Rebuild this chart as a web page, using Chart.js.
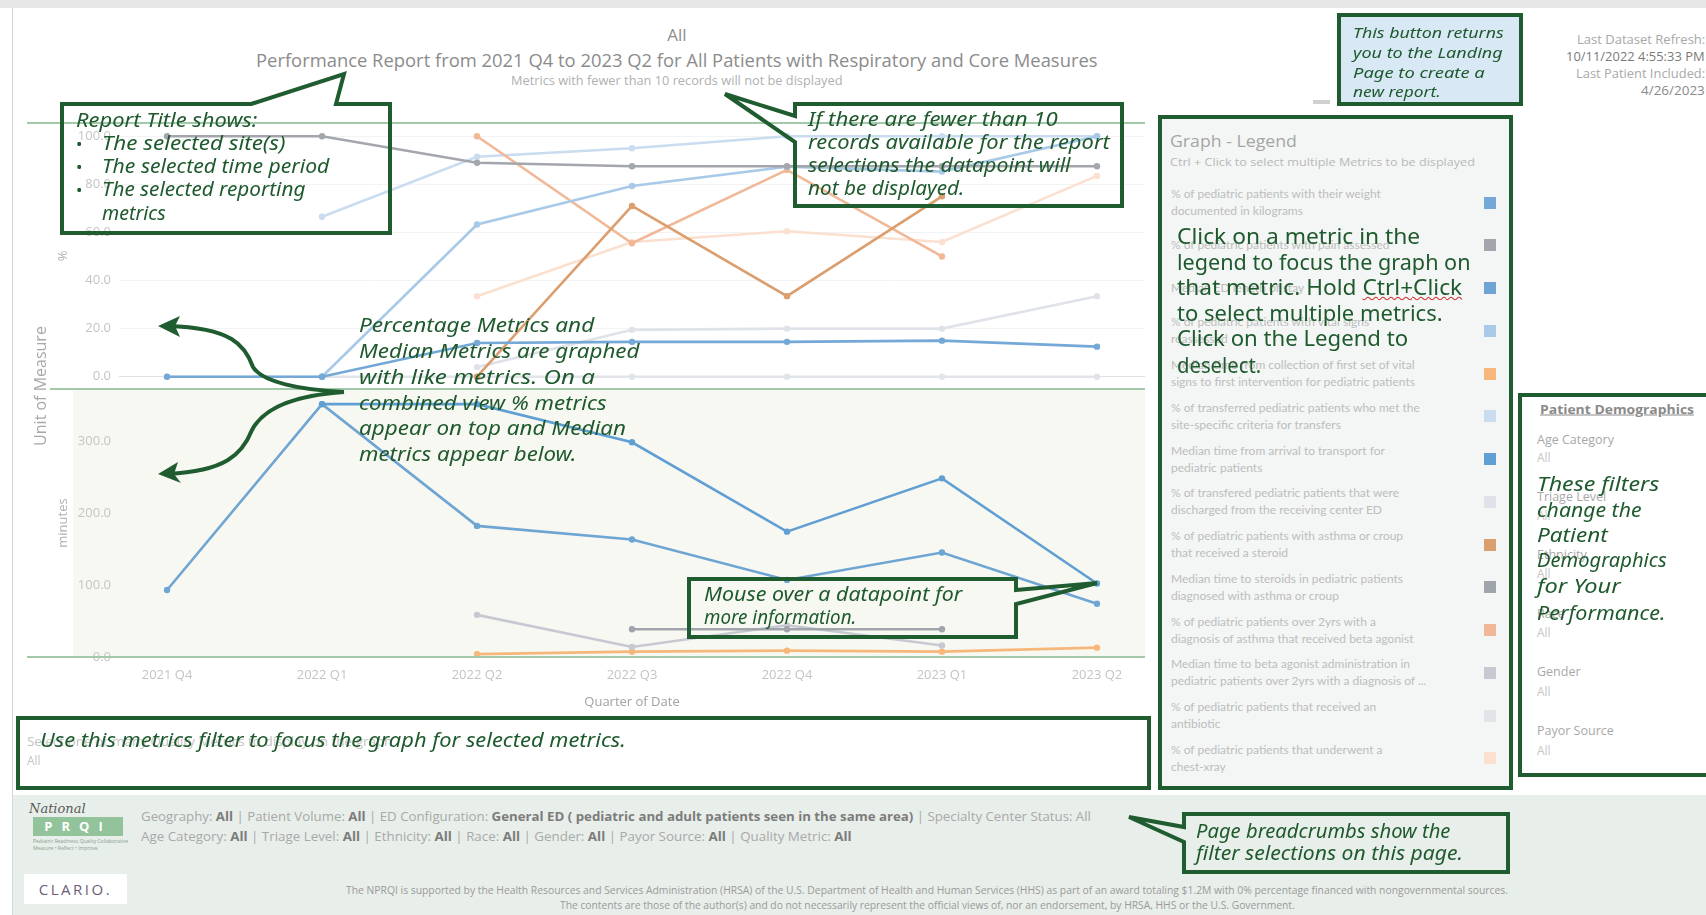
<!DOCTYPE html>
<html><head><meta charset="utf-8">
<script src="https://cdn.jsdelivr.net/npm/chart.js@4.4.1/dist/chart.umd.min.js"></script>
<style>
html,body{margin:0;padding:0;background:#fff;}
#root{position:relative;width:1706px;height:915px;overflow:hidden;font-family:'Open Sans',sans-serif;}
.abs{position:absolute;}
.t{position:absolute;white-space:nowrap;line-height:1;transform:translateY(-50%);transform-origin:left center;}
.h{font-family:'Noto Sans',sans-serif;font-style:italic;color:#1e5a2d;}
.hu{font-family:'Noto Sans',sans-serif;color:#1e5a2d;}
canvas{position:absolute;}
.g{color:#a9a9a9}.d{color:#7c7c7c;font-weight:bold}
</style></head><body><div id="root">

<!-- frame -->
<div class="abs" style="left:0;top:0;width:1706px;height:8px;background:#e6e6e6"></div>
<div class="abs" style="left:12px;top:8px;width:1px;height:907px;background:#d6d6d6"></div>
<div class="abs" style="left:13px;top:795px;width:1693px;height:120px;background:#e8eee9"></div>
<div class="abs" style="left:1162px;top:119px;width:347px;height:667px;background:#f3f6f4"></div>
<div class="abs" style="left:73px;top:389px;width:1072px;height:268px;background:#f8f8f2"></div>

<canvas id="topChart" width="1110" height="305" style="left:50px;top:100px"></canvas>
<canvas id="botChart" width="1110" height="347" style="left:50px;top:373px"></canvas>

<!-- green rules -->
<div class="abs" style="left:27px;top:122px;width:1118px;height:2px;background:#a2c9a9"></div>
<div class="abs" style="left:50px;top:388px;width:1095px;height:2px;background:#a2c9a9"></div>
<div class="abs" style="left:27px;top:656px;width:1118px;height:2px;background:#a2c9a9"></div>

<!-- header -->
<div class="t" style="left:0;width:1354px;text-align:center;top:34px;font-size:17px;color:#8e8e8e">All</div>
<div class="t" data-w="842" style="left:256px;top:60px;font-size:18px;color:#8c8c8c">Performance Report from 2021 Q4 to 2023 Q2 for All Patients with Respiratory and Core Measures</div>
<div class="t" data-w="331" style="left:511px;top:81px;font-size:12px;color:#b0b0b0">Metrics with fewer than 10 records will not be displayed</div>
<div class="t" style="left:40px;top:386px;font-size:16px;color:#a8a8a8;transform:translate(-50%,-50%) rotate(-90deg);transform-origin:center">Unit of Measure</div>

<!-- top right -->
<div class="abs" style="left:1339px;top:15px;width:182px;height:89px;background:#d8e8f4"></div>
<div class="abs" style="left:1313px;top:100px;width:17px;height:4px;background:#d0d0d0"></div>
<div class="t" data-w="128" style="right:1px;top:40px;font-size:12px;color:#a8a8a8;transform-origin:right center">Last Dataset Refresh:</div>
<div class="t" data-w="139" style="right:1px;top:57px;font-size:12px;color:#7a7a7a;transform-origin:right center">10/11/2022 4:55:33 PM</div>
<div class="t" data-w="129" style="right:1px;top:74px;font-size:12px;color:#a8a8a8;transform-origin:right center">Last Patient Included:</div>
<div class="t" data-w="64" style="right:1px;top:91px;font-size:12px;color:#8a8a8a;transform-origin:right center">4/26/2023</div>

<!-- metrics filter -->
<div class="t" data-w="365" style="left:27px;top:741px;font-size:13px;color:#c4c4c4">Select one or many Quality Metrics to display on the graph</div>
<div class="t" style="left:27px;top:761px;font-size:12px;color:#c4c4c4">All</div>

<!-- legend -->
<div class="t" data-w="127" style="left:1170px;top:140px;font-size:17px;color:#a5a5a5">Graph - Legend</div>
<div class="t" data-w="305" style="left:1170px;top:162px;font-size:11.5px;color:#b8b8b8">Ctrl + Click to select multiple Metrics to be displayed</div>
<div id="legendItems"></div>

<!-- demographics -->
<div class="t" data-w="154" style="left:1540px;top:409px;font-size:13px;font-weight:bold;color:#8a8a8a;text-decoration:underline">Patient Demographics</div>
<div class="t" style="left:1537px;top:440px;font-size:12.5px;color:#a8a8a8">Age Category</div>
<div class="t" style="left:1537px;top:458px;font-size:12px;color:#c6c6c6">All</div>
<div class="t" style="left:1537px;top:497px;font-size:12.5px;color:#a8a8a8">Triage Level</div>
<div class="t" style="left:1537px;top:516px;font-size:12px;color:#c6c6c6">All</div>
<div class="t" style="left:1537px;top:555px;font-size:12.5px;color:#a8a8a8">Ethnicity</div>
<div class="t" style="left:1537px;top:574px;font-size:12px;color:#c6c6c6">All</div>
<div class="t" style="left:1537px;top:614px;font-size:12.5px;color:#a8a8a8">Race</div>
<div class="t" style="left:1537px;top:633px;font-size:12px;color:#c6c6c6">All</div>
<div class="t" style="left:1537px;top:672px;font-size:12.5px;color:#a8a8a8">Gender</div>
<div class="t" style="left:1537px;top:692px;font-size:12px;color:#c6c6c6">All</div>
<div class="t" style="left:1537px;top:731px;font-size:12.5px;color:#a8a8a8">Payor Source</div>
<div class="t" style="left:1537px;top:751px;font-size:12px;color:#c6c6c6">All</div>

<!-- footer -->
<div class="t" style="left:29px;top:808px;font-size:13px;font-family:'DejaVu Serif',serif;font-style:italic;color:#5a5a5a">National</div>
<div class="abs" style="left:33px;top:817px;width:90px;height:19px;background:#93c39b;color:#fff;font-size:13px;font-weight:bold;letter-spacing:9px;text-align:center;line-height:19px">PRQI</div>
<div class="t" style="left:33px;top:841px;font-size:5px;color:#8aa08e">Pediatric Readiness Quality Collaborative</div>
<div class="t" style="left:33px;top:848px;font-size:5px;color:#8aa08e">Measure • Reflect • Improve</div>
<div class="abs" style="left:24px;top:874px;width:103px;height:30px;background:#fff;color:#6e5e78;font-size:15px;letter-spacing:2.5px;text-align:center;line-height:30px">CLARIO.</div>
<div class="t" data-w="950" style="left:141px;top:816px;font-size:13px;color:#a9a9a9"><span class="g">Geography: </span><span class="d">All</span><span class="g"> | Patient Volume: </span><span class="d">All</span><span class="g"> | ED Configuration: </span><span class="d">General ED ( pediatric and adult patients seen in the same area)</span><span class="g"> | Specialty Center Status: All</span></div>
<div class="t" data-w="711" style="left:141px;top:836px;font-size:13px;color:#a9a9a9"><span class="g">Age Category: </span><span class="d">All</span><span class="g"> | Triage Level: </span><span class="d">All</span><span class="g"> | Ethnicity: </span><span class="d">All</span><span class="g"> | Race: </span><span class="d">All</span><span class="g"> | Gender: </span><span class="d">All</span><span class="g"> | Payor Source: </span><span class="d">All</span><span class="g"> | Quality Metric: </span><span class="d">All</span></div>
<div class="t" data-w="1162" style="left:346px;top:890px;font-size:10px;color:#9a9a9a">The NPRQI is supported by the Health Resources and Services Administration (HRSA) of the U.S. Department of Health and Human Services (HHS) as part of an award totaling $1.2M with 0% percentage financed with nongovernmental sources.</div>
<div class="t" data-w="735" style="left:560px;top:905px;font-size:10px;color:#9a9a9a">The contents are those of the author(s) and do not necessarily represent the official views of, nor an endorsement, by HRSA, HHS or the U.S. Government.</div>

<!-- callout shapes -->
<svg class="abs" style="left:0;top:0" width="1706" height="915" viewBox="0 0 1706 915">
<g fill="none" stroke="#1f5c2f" stroke-width="4" stroke-linejoin="miter">
<path d="M251,104 L344,74 L336,104 L390,104 L390,233 L62,233 L62,104 Z"/>
<path d="M795,104 L1122,104 L1122,206 L795,206 L795,142 L725,94 L795,116 Z"/>
<path d="M689,579 L1016,579 L1016,590 L1097,583 L1016,604 L1016,637 L689,637 Z"/>
<path d="M18,718 H1149 V788 H18 Z"/>
<path d="M1160,117 H1511 V788 H1160 Z"/>
<path d="M1339,15 H1521 V104 H1339 Z"/>
<path d="M1520,395 H1712 V775 H1520 Z"/>
<path d="M1184,814 H1508 V872 H1184 V842 L1129,817 L1184,827 Z"/>
<path d="M344,392 C300,390 262,382 253,367 C245,345 232,328 168,326"/>
<path d="M344,392 C300,395 265,405 252,430 C242,455 225,471 168,474"/>
</g>
<g fill="#1f5c2f">
<polygon points="158,326 180,316 175,326 180,337"/>
<polygon points="158,474 178,462 174,474 181,483"/>
</g>
</svg>

<!-- hand-written notes -->
<div class="t h" data-w="181" style="left:76px;top:120px;font-size:19px">Report Title shows:</div>
<div class="t h" style="left:76px;top:143px;font-size:17px;font-style:normal">•</div>
<div class="t h" style="left:76px;top:166px;font-size:17px;font-style:normal">•</div>
<div class="t h" style="left:76px;top:189px;font-size:17px;font-style:normal">•</div>
<div class="t h" data-w="183" style="left:102px;top:143px;font-size:19px">The selected site(s)</div>
<div class="t h" data-w="227" style="left:102px;top:166px;font-size:19px">The selected time period</div>
<div class="t h" data-w="204" style="left:102px;top:189px;font-size:19px">The selected reporting</div>
<div class="t h" data-w="64" style="left:102px;top:213px;font-size:19px">metrics</div>

<div class="t h" data-w="250" style="left:808px;top:119px;font-size:19px">If there are fewer than 10</div>
<div class="t h" data-w="302" style="left:808px;top:142px;font-size:19px">records available for the report</div>
<div class="t h" data-w="263" style="left:808px;top:165px;font-size:19px">selections the datapoint will</div>
<div class="t h" data-w="156" style="left:808px;top:188px;font-size:19px">not be displayed.</div>

<div class="t h" data-w="235" style="left:359px;top:325px;font-size:20px">Percentage Metrics and</div>
<div class="t h" data-w="280" style="left:359px;top:351px;font-size:20px">Median Metrics are graphed</div>
<div class="t h" data-w="236" style="left:359px;top:377px;font-size:20px">with like metrics. On a</div>
<div class="t h" data-w="248" style="left:359px;top:403px;font-size:20px">combined view % metrics</div>
<div class="t h" data-w="267" style="left:359px;top:428px;font-size:20px">appear on top and Median</div>
<div class="t h" data-w="218" style="left:359px;top:454px;font-size:20px">metrics appear below.</div>

<div class="t h" data-w="258" style="left:704px;top:594px;font-size:19px">Mouse over a datapoint for</div>
<div class="t h" data-w="152" style="left:704px;top:617px;font-size:19px">more information.</div>

<div class="t h" data-w="586" style="left:40px;top:740px;font-size:19px">Use this metrics filter to focus the graph for selected metrics.</div>

<div class="t h" data-w="151" style="left:1353px;top:32px;font-size:15px">This button returns</div>
<div class="t h" data-w="150" style="left:1353px;top:52px;font-size:15px">you to the Landing</div>
<div class="t h" data-w="132" style="left:1353px;top:72px;font-size:15px">Page to create a</div>
<div class="t h" data-w="88" style="left:1353px;top:91px;font-size:15px">new report.</div>

<div class="t hu" data-w="243" style="left:1177px;top:236px;font-size:21px">Click on a metric in the</div>
<div class="t hu" data-w="293" style="left:1177px;top:262px;font-size:21px">legend to focus the graph on</div>
<div class="t hu" data-w="285" style="left:1177px;top:287px;font-size:21px">that metric. Hold <span style="text-decoration:underline wavy #d03030;text-decoration-thickness:1px">Ctrl+Click</span></div>
<div class="t hu" data-w="266" style="left:1177px;top:313px;font-size:21px">to select multiple metrics.</div>
<div class="t hu" data-w="231" style="left:1177px;top:338px;font-size:21px">Click on the Legend to</div>
<div class="t hu" data-w="84" style="left:1177px;top:365px;font-size:21px">deselect.</div>

<div class="t h" data-w="122" style="left:1537px;top:484px;font-size:20px">These filters</div>
<div class="t h" data-w="105" style="left:1537px;top:510px;font-size:20px">change the</div>
<div class="t h" data-w="71" style="left:1537px;top:535px;font-size:20px">Patient</div>
<div class="t h" data-w="130" style="left:1537px;top:560px;font-size:20px">Demographics</div>
<div class="t h" data-w="84" style="left:1537px;top:586px;font-size:20px">for Your</div>
<div class="t h" data-w="128" style="left:1537px;top:613px;font-size:20px">Performance.</div>

<div class="t h" data-w="254" style="left:1196px;top:831px;font-size:19px">Page breadcrumbs show the</div>
<div class="t h" data-w="267" style="left:1196px;top:853px;font-size:19px">filter selections on this page.</div>

</div>
<script>
// ---- data ----
const quarters = ['2021 Q4','2022 Q1','2022 Q2','2022 Q3','2022 Q4','2023 Q1','2023 Q2'];
const pctTicks = [0,20,40,60,80,100];
const minuteTicks = [0,100,200,300];

const metricNames = [
  ['% of pediatric patients with their weight','documented in kilograms'],
  ['% of pediatric patients with pain assessed',''],
  ['Median ED length of stay',''],
  ['% of pediatric patients with vital signs','reassessed'],
  ['Median time from collection of first set of vital','signs to first intervention for pediatric patients'],
  ['% of transferred pediatric patients who met the','site-specific criteria for transfers'],
  ['Median time from arrival to transport for','pediatric patients'],
  ['% of transfered pediatric patients that were','discharged from the receiving center ED'],
  ['% of pediatric patients with asthma or croup','that received a steroid'],
  ['Median time to steroids in pediatric patients','diagnosed with asthma or croup'],
  ['% of pediatric patients over 2yrs with a','diagnosis of asthma that received beta agonist'],
  ['Median time to beta agonist administration in','pediatric patients over 2yrs with a diagnosis of ...'],
  ['% of pediatric patients that received an','antibiotic'],
  ['% of pediatric patients that underwent a','chest-xray']
];
const metricColors = ['#73a8d7','#a3a6ac','#6ea5d3','#a8c9e8','#f8b77a','#c9dcf0','#609fd3',
                      '#dfe3e9','#db9e6e','#a0a4ab','#f0b896','#c6c9d1','#e1e4e9','#fbe0cf'];
const metricUnits = ['pct','pct','min','pct','min','pct','min','pct','pct','min','pct','min','pct','pct'];

const weightKg            = [0, 0, 14, 14.5, 14.5, 15, 12.5];
const painAssessed        = [100, 100, 89, 87.5, 87.5, 87.5, 87.5];
const edLengthOfStay      = [93, 351, 182, 163, 107, 145, 74];
const vitalsReassessed    = [null, 0, 63.3, 79.3, 87.3, 85.3, 100];
const vitalsToIntervention= [null, null, 4, 7.4, 8.8, 7.4, 13];
const transferCriteriaMet = [null, 66.5, 91.5, 95, 100, 100, 100];
const arrivalToTransport  = [null, 351, 351, 298, 174, 248, 102];
const transferDischarged  = [null, null, 4, 19.5, 20, 20, 33.5];
const steroidPct          = [null, null, 0, 71, 33.5, 75, null];
const steroidMedian       = [null, null, null, 38.5, 38.5, 38.5, null];
const betaAgonistPct      = [null, null, 100, 55.5, 86, 50, null];
const betaAgonistMedian   = [null, null, 58.5, 14, 44, 16, null];
const antibioticPct       = [0, 0, 0, 0, 0, 0, 0];
const chestXrayPct        = [null, null, 33.5, 56, 60.5, 56, 83.5];

const seriesValues = [weightKg, painAssessed, edLengthOfStay, vitalsReassessed, vitalsToIntervention,
  transferCriteriaMet, arrivalToTransport, transferDischarged, steroidPct, steroidMedian,
  betaAgonistPct, betaAgonistMedian, antibioticPct, chestXrayPct];

// ---- legend ----
const lg = document.getElementById('legendItems');
metricNames.forEach((n,i)=>{
  const y1 = 194 + 42.75*i;
  const mid = y1 + 8.5;
  const add = (txt,y)=>{const d=document.createElement('div');d.className='t';d.style.cssText=`left:1171px;top:${y}px;font-family:Lato,sans-serif;font-size:12px;color:#bdbdbd`;d.textContent=txt;lg.appendChild(d);};
  if(n[1]){add(n[0],y1);add(n[1],y1+17);} else add(n[0],mid);
  const s=document.createElement('div');s.className='abs';
  s.style.cssText=`left:1484px;top:${mid-6}px;width:12px;height:12px;background:${metricColors[i]}`;
  lg.appendChild(s);
});

// ---- charts ----
Chart.defaults.font.family = "'Open Sans', sans-serif";
function ds(i){
  const c = metricColors[i];
  return {label: metricNames[i].join(' ').trim(), data: seriesValues[i].map((v,k)=>({x:k,y:v})),
    borderColor:c, backgroundColor:c, pointBackgroundColor:c, pointBorderWidth:0,
    pointRadius:3.2, borderWidth:2.6, tension:0, spanGaps:false};
}
const pctOrder = [0,1,3,8,10,5,7,13,12];
const minOrder = [6,2,9,11,4];
const tickFont = {family:"'Open Sans', sans-serif", size:13};
const xRange = {min:-0.31, max:6.31};

new Chart(document.getElementById('topChart'), {
  type:'line',
  data:{datasets: pctOrder.map(ds)},
  options:{
    responsive:false, animation:false,
    layout:{padding:{left:0,right:15,top:23,bottom:16}},
    plugins:{legend:{display:false}},
    scales:{
      x:{type:'linear', ...xRange, display:false},
      y:{min:-5.1, max:105.5,
         afterBuildTicks:s=>{s.ticks = pctTicks.map(v=>({value:v}));},
         afterFit:s=>{s.width = 69;},
         ticks:{callback:v=>Number(v).toFixed(1), color:'#c4c4c4', font:tickFont, padding:8},
         grid:{drawTicks:false, color:c=>(c.tick && c.tick.value===0)?'#e2e2e2':'#f3f3f3'},
         border:{display:false},
         title:{display:true, text:'%', color:'#b0b0b0', font:{size:13}, padding:{top:5,bottom:0}}}
    }
  }
});

new Chart(document.getElementById('botChart'), {
  type:'line',
  data:{datasets: minOrder.map(ds)},
  options:{
    responsive:false, animation:false,
    layout:{padding:{left:0,right:15,top:16,bottom:0}},
    plugins:{legend:{display:false}},
    scales:{
      x:{type:'linear', ...xRange,
         afterBuildTicks:s=>{s.ticks = quarters.map((q,i)=>({value:i}));},
         afterFit:s=>{s.height = 63;},
         ticks:{callback:v=>quarters[Math.round(v)], color:'#c4c4c4', font:tickFont, padding:10, maxRotation:0, autoSkip:false},
         grid:{display:false, drawTicks:false}, border:{display:false},
         title:{display:true, text:'Quarter of Date', color:'#a2a2a2', font:{size:13}, padding:{top:0,bottom:10}}},
      y:{min:0, max:372,
         afterBuildTicks:s=>{s.ticks = minuteTicks.map(v=>({value:v}));},
         afterFit:s=>{s.width = 69;},
         ticks:{callback:v=>Number(v).toFixed(1), color:'#c4c4c4', font:tickFont, padding:8},
         grid:{display:false, drawTicks:false}, border:{display:false},
         title:{display:true, text:'minutes', color:'#b0b0b0', font:{size:13}, padding:{top:5,bottom:0}}}
    }
  }
});

// ---- fit text widths ----
document.querySelectorAll('[data-w]').forEach(el=>{
  const w = el.offsetWidth, t = +el.dataset.w;
  if (w>0) el.style.transform = `translateY(-50%) scaleX(${(t/w).toFixed(4)})`;
});
</script>
</body></html>
